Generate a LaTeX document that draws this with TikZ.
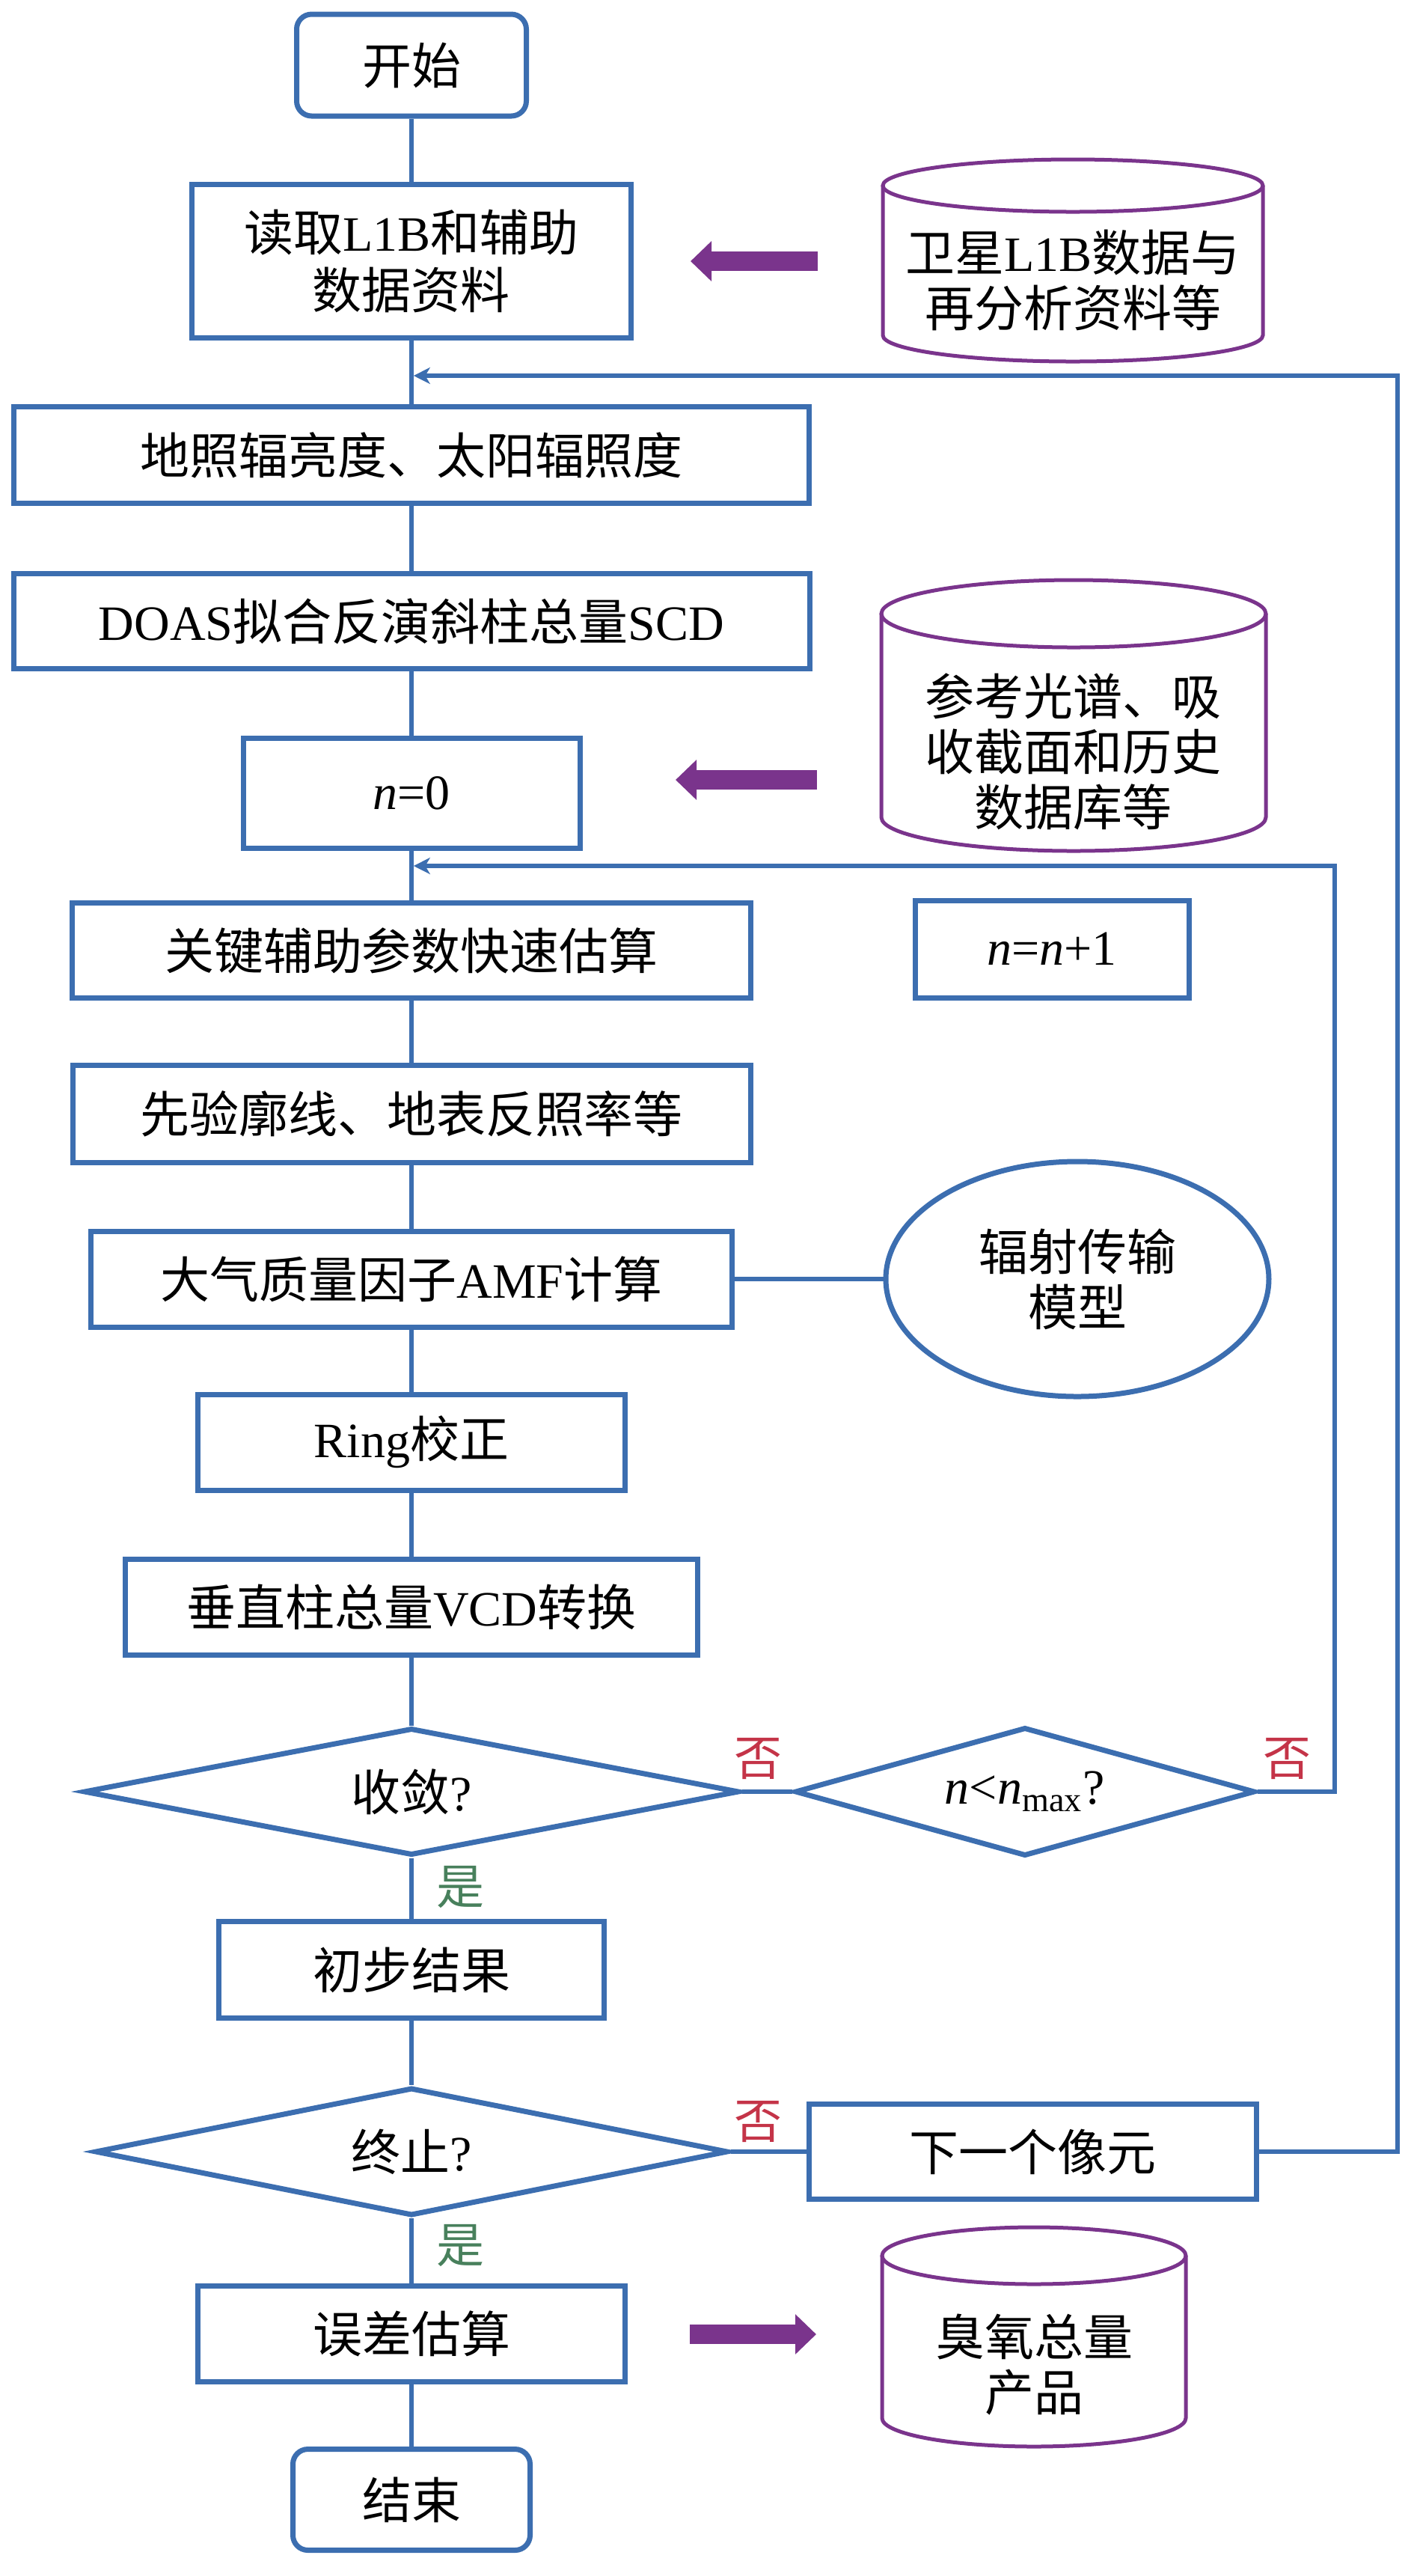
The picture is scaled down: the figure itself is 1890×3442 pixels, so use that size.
\documentclass[tikz,border=0pt]{standalone}
\usepackage{fontspec}
\setmainfont{Liberation Serif}
\newfontfamily\zhfont{Noto Sans CJK SC}
\newcommand\zh[1]{{\zhfont #1}}
\newcommand\msz{\fontsize{16.5pt}{18.5pt}\selectfont}
\newcommand\lsz{\fontsize{16pt}{18pt}\selectfont}
\usetikzlibrary{shapes.geometric,arrows.meta,calc}
\definecolor{fblue}{RGB}{60,110,176}
\definecolor{fpurple}{RGB}{122,52,140}
\definecolor{fred}{RGB}{196,52,72}
\definecolor{fgreen}{RGB}{72,128,92}
\tikzset{
  blk/.style={draw=fblue, line width=1.75pt, fill=white, inner sep=0pt, align=center, font=\msz},
  term/.style={blk, rounded corners=5pt},
  dec/.style={blk, diamond},
  conn/.style={draw=fblue, line width=1.5pt},
  fb/.style={conn, -{Stealth[length=5.5pt,width=5.5pt,inset=1.6pt]}, shorten >=0.7pt},
  bigarr/.style={draw=fpurple, line width=6.5pt, -{Triangle[length=7pt,width=13pt]}},
  dbline/.style={draw=fpurple, line width=1.25pt},
  dbtxt/.style={inner sep=0pt, align=center, font=\msz},
  lblno/.style={text=fred, font=\lsz, inner sep=0pt},
  lblyes/.style={text=fgreen, font=\lsz, inner sep=0pt}
}
\begin{document}
\begin{tikzpicture}[x=0.25pt, y=-0.25pt]
\useasboundingbox (0,0) rectangle (1890,3442);

% ---- main column ----
\node[term, minimum width=76.75pt, minimum height=34pt] (start) at (550,87) {\zh{开始}};
\node[blk, minimum width=146.75pt, minimum height=51.25pt, font=\fontsize{16.5pt}{19.25pt}\selectfont] (read) at (550,349) {\zh{读取}L1B\zh{和辅助}\\\zh{数据资料}};
\node[blk, minimum width=265.75pt, minimum height=32.25pt] (dz) at (550,608) {\zh{地照辐亮度、太阳辐照度}};
\node[blk, minimum width=266pt, minimum height=31.75pt] (doas) at (550,830) {DOAS\zh{拟合反演斜柱总量}SCD};
\node[blk, minimum width=112.5pt, minimum height=36.75pt] (n0) at (550,1060) {\textit{n}=0};
\node[blk, minimum width=226.75pt, minimum height=31.75pt] (key) at (550,1270) {\zh{关键辅助参数快速估算}};
\node[blk, minimum width=91.5pt, minimum height=32.5pt] (nn1) at (1406,1268) {\textit{n}=\textit{n}+1};
\node[blk, minimum width=226.5pt, minimum height=32.5pt] (prior) at (550,1488) {\zh{先验廓线、地表反照率等}};
\node[blk, minimum width=214.25pt, minimum height=32pt] (amf) at (550,1709) {\zh{大气质量因子}AMF\zh{计算}};
\node[blk, ellipse, minimum width=128pt, minimum height=78.5pt] (rtm) at (1440,1709) {\zh{辐射传输}\\\zh{模型}};
\node[blk, minimum width=142.75pt, minimum height=32pt] (ring) at (550,1927) {Ring\zh{校正}};
\node[blk, minimum width=191.25pt, minimum height=32pt] (vcd) at (550,2147) {\zh{垂直柱总量}VCD\zh{转换}};
\node[dec, aspect=5.15, minimum width=219pt, minimum height=42.5pt] (conv) at (550,2394) {\zh{收敛}?};
\node[dec, aspect=3.58, minimum width=153.75pt, minimum height=43pt] (nmax) at (1370,2394) {\textit{n}<\textit{n}\textsubscript{max}?};
\node[blk, minimum width=128.75pt, minimum height=32.25pt] (prelim) at (550,2632) {\zh{初步结果}};
\node[dec, aspect=4.95, minimum width=211.5pt, minimum height=42.75pt] (stop) at (550,2875) {\zh{终止}?};
\node[blk, minimum width=149.5pt, minimum height=31.75pt] (next) at (1380,2875) {\zh{下一个像元}};
\node[blk, minimum width=142.75pt, minimum height=32pt] (err) at (550,3118) {\zh{误差估算}};
\node[term, minimum width=79.25pt, minimum height=33.75pt] (end) at (550,3340) {\zh{结束}};

% ---- databases (cylinders) ----
\draw[dbline] (1434,248) ellipse [x radius=254, y radius=35];
\draw[dbline] (1180,248) -- (1180,448) arc[start angle=180, end angle=0, x radius=254, y radius=35] -- (1688,248);
\node[dbtxt] (db1) at (1434,374) {\zh{卫星}L1B\zh{数据与}\\\zh{再分析资料等}};

\draw[dbline] (1435,820) ellipse [x radius=257, y radius=45];
\draw[dbline] (1178,820) -- (1178,1092) arc[start angle=180, end angle=0, x radius=257, y radius=45] -- (1692,820);
\node[dbtxt] (db2) at (1434,1004) {\zh{参考光谱、吸}\\\zh{收截面和历史}\\\zh{数据库等}};

\draw[dbline] (1382,3014) ellipse [x radius=203, y radius=38];
\draw[dbline] (1179,3014) -- (1179,3231) arc[start angle=180, end angle=0, x radius=203, y radius=38] -- (1585,3014);
\node[dbtxt] (db3) at (1382,3160) {\zh{臭氧总量}\\\zh{产品}};

% ---- purple block arrows ----
\coordinate (a1s) at (1093,349);
\coordinate (a1e) at (923,349);
\coordinate (a2s) at (1092,1042);
\coordinate (a2e) at (903,1042);
\coordinate (a3s) at (922,3119);
\coordinate (a3e) at (1091,3119);
\draw[bigarr] (a1s) -- (a1e);
\draw[bigarr] (a2s) -- (a2e);
\draw[bigarr] (a3s) -- (a3e);

% ---- connectors ----
\draw[conn] (start.south) -- (read.north);
\draw[conn] (read.south) -- (dz.north);
\draw[conn] (dz.south) -- (doas.north);
\draw[conn] (doas.south) -- (n0.north);
\draw[conn] (n0.south) -- (key.north);
\draw[conn] (key.south) -- (prior.north);
\draw[conn] (prior.south) -- (amf.north);
\draw[conn] (amf.south) -- (ring.north);
\draw[conn] (ring.south) -- (vcd.north);
\draw[conn] (vcd.south) -- (conv.north);
\draw[conn] (conv.south) -- (prelim.north);
\draw[conn] (prelim.south) -- (stop.north);
\draw[conn] (stop.south) -- (err.north);
\draw[conn] (err.south) -- (end.north);
\draw[conn] (amf.east) -- (rtm.west);
\draw[conn] (conv.east) -- (nmax.west);
\draw[conn] (stop.east) -- (next.west);

% feedback loops
\coordinate (r1) at (1868,502);
\coordinate (j1) at (550,502);
\draw[fb] (next.east) -| (r1) -- (j1);
\coordinate (r2) at (1784,1157);
\coordinate (j2) at (550,1157);
\draw[fb] (nmax.east) -| (r2) -- (j2);

% ---- yes / no labels ----
\node[lblno] (no1) at (1013,2350) {\zh{否}};
\node[lblno] (no2) at (1720,2350) {\zh{否}};
\node[lblno] (no3) at (1013,2835) {\zh{否}};
\node[lblyes] (yes1) at (615,2521) {\zh{是}};
\node[lblyes] (yes2) at (615,3000) {\zh{是}};
\end{tikzpicture}
\end{document}
